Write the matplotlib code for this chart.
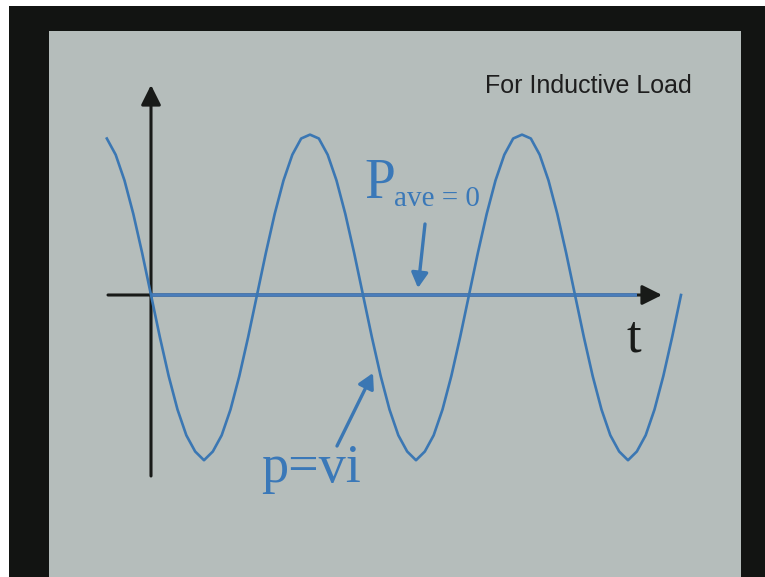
import numpy as np
import matplotlib
matplotlib.use("Agg")
import matplotlib.pyplot as plt
from matplotlib.patches import Rectangle

# p = vi for an inductive load at 1/24 period steps
# (first sample just after the first peak, last one back on the axis)
p_vals = [0.966, 0.866, 0.707, 0.5, 0.259,
          0.0, -0.259, -0.5, -0.707, -0.866, -0.966, -1.02, -0.966, -0.866, -0.707, -0.5, -0.259,
          0.0, 0.259, 0.5, 0.707, 0.866, 0.966, 0.99, 0.966, 0.866, 0.707, 0.5, 0.259,
          0.0, -0.259, -0.5, -0.707, -0.866, -0.966, -1.02, -0.966, -0.866, -0.707, -0.5, -0.259,
          0.0, 0.259, 0.5, 0.707, 0.866, 0.966, 0.99, 0.966, 0.866, 0.707, 0.5, 0.259,
          0.0, -0.259, -0.5, -0.707, -0.866, -0.966, -1.02, -0.966, -0.866, -0.707, -0.5, -0.259,
          0.0]
t_vals = np.arange(-5, -5 + len(p_vals)) / 24.0
p_ave = 0.0

title = "For Inductive Load"
lbl_pave = "P"
lbl_pave_sub = "ave = 0"
lbl_p = "p=vi"
lbl_t = "t"

BLUE = "#3b77b3"
LINE_BLUE = "#4a7dba"
TXT_BLUE = "#3a78b8"
INK = "#181a18"
SLIDE = "#b5bdbb"
FRAME = "#121412"

W, H = 765, 577
fig = plt.figure(figsize=(W / 100, H / 100), dpi=100, facecolor=FRAME)
# white strips of the screenshot at top and left
fig.patches.append(Rectangle((0, 1 - 6 / H), 1, 6 / H, transform=fig.transFigure,
                             facecolor="white", edgecolor="none", zorder=-1))
fig.patches.append(Rectangle((0, 0), 9 / W, 1, transform=fig.transFigure,
                             facecolor="white", edgecolor="none", zorder=-1))

L, R, T, B = 49, 741, 31, 577
ax = fig.add_axes([L / W, 1 - B / H, (R - L) / W, (B - T) / H])
ax.set_facecolor(SLIDE)
for s in ax.spines.values():
    s.set_visible(False)
ax.set_xticks([])
ax.set_yticks([])

X0, Y0, PX_T, PX_P = 151, 295, 212.0, 162.0
def tx(x):
    return (x - X0) / PX_T
def py(y):
    return (Y0 - y) / PX_P

ax.set_xlim(tx(L), tx(R))
ax.set_ylim(py(B), py(T))

# axes with arrows
arr = dict(arrowstyle="-|>,head_length=1.2,head_width=0.6", color=INK, lw=2.2,
           shrinkA=0, shrinkB=0)
ax.annotate("", xy=(tx(151), py(85)), xytext=(tx(151), py(476)), arrowprops=arr, zorder=2)
ax.annotate("", xy=(tx(662), py(295)), xytext=(tx(108), py(295)), arrowprops=arr, zorder=2)

# average power line, on top of the time axis
ax.plot([tx(151), tx(637)], [p_ave, p_ave], color=LINE_BLUE, lw=2.6,
        solid_capstyle="butt", zorder=4)

# instantaneous power
ax.plot(t_vals, p_vals, color=BLUE, lw=1.9, solid_joinstyle="round", zorder=5)

barr = dict(arrowstyle="-|>,head_length=0.9,head_width=0.5", color=BLUE, lw=2.4,
            shrinkA=0, shrinkB=0)
ax.annotate("", xy=(tx(418), py(288)), xytext=(tx(425), py(224)), arrowprops=barr, zorder=6)
ax.annotate("", xy=(tx(373), py(373)), xytext=(tx(337), py(446)), arrowprops=barr, zorder=6)

ax.text(tx(485), py(93), title, fontsize=18, family="Liberation Sans", color="#1e1e1e",
        ha="left", va="baseline")
ax.text(tx(364), py(198), lbl_pave, fontsize=40, family="Liberation Serif", color=TXT_BLUE,
        ha="left", va="baseline")
ax.text(tx(394), py(206), lbl_pave_sub, fontsize=21, family="Liberation Serif", color=TXT_BLUE,
        ha="left", va="baseline")
ax.text(tx(261), py(482), lbl_p, fontsize=39, family="Liberation Serif", color=TXT_BLUE,
        ha="left", va="baseline")
ax.text(tx(634), py(351), lbl_t, fontsize=38, family="Liberation Serif", color=INK,
        ha="center", va="baseline")

fig.savefig("out.png", dpi=100, facecolor=FRAME)
